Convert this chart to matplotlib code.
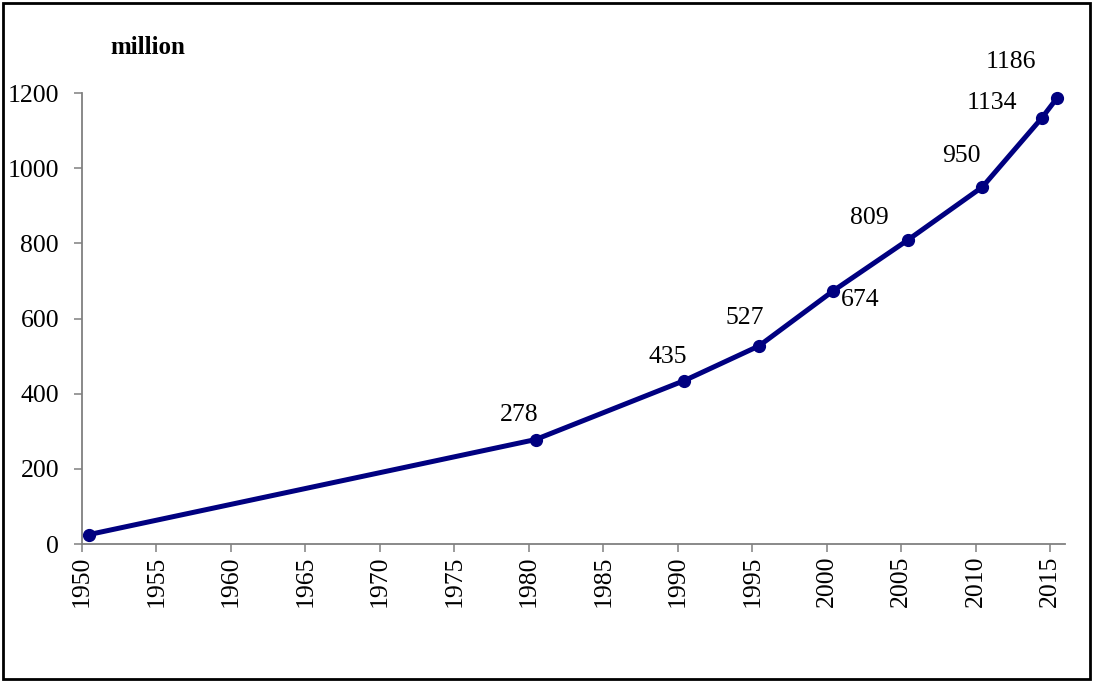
import matplotlib.pyplot as plt
from matplotlib.patches import Rectangle

# Population (million) by year
years = [1950, 1980, 1990, 1995, 2000, 2005, 2010, 2014, 2015]
values = [25, 278, 435, 527, 674, 809, 950, 1134, 1186]
labels = ['', '278', '435', '527', '674', '809', '950', '1134', '1186']
# label offsets in points relative to each marker
label_offsets = [(0, 0), (-12, 18), (-12, 17), (-10, 20), (19, -7),
                 (-28, 16), (-15, 22), (-36, 11), (-33, 26)]
xticks = list(range(1950, 2016, 5))
yticks = list(range(0, 1201, 200))

plt.rcParams['font.family'] = ['Liberation Serif', 'DejaVu Serif']

fig = plt.figure(figsize=(10.93, 6.82), dpi=100)
ax = fig.add_axes([0.075, 0.2023, 0.8994, 0.6613])

# values are mid-year, so shift them a little past the tick
xs = [y + 0.45 for y in years]
ax.plot(xs, values, color='#000080', lw=3.6, marker='o', markersize=8.5,
        clip_on=False, zorder=3)

for x, v, lab, off in zip(xs, values, labels, label_offsets):
    if lab:
        ax.annotate(lab, (x, v), xytext=off, textcoords='offset points',
                    ha='center', va='center', fontsize=18.5)

ax.set_xlim(1950, 2016)
ax.set_ylim(0, 1200)
ax.set_xticks(xticks)
ax.set_xticklabels([str(t) for t in xticks], rotation=90)
ax.set_yticks(yticks)

for s in ['top', 'right']:
    ax.spines[s].set_visible(False)
for s in ['left', 'bottom']:
    ax.spines[s].set_color('#808080')
    ax.spines[s].set_linewidth(1.3)
ax.tick_params(axis='both', direction='out', length=5.5, width=1.1,
               color='#808080', labelsize=18.5)
ax.tick_params(axis='y', pad=11)
ax.tick_params(axis='x', pad=3)

fig.text(0.135, 0.93, 'million', fontsize=18, fontweight='bold',
         ha='center', va='center')

# outer frame
fig.patches.append(Rectangle((0.003, 0.004), 0.994, 0.992, fill=False,
                             edgecolor='black', lw=2,
                             transform=fig.transFigure, figure=fig))

fig.savefig('out.png', dpi=100)
